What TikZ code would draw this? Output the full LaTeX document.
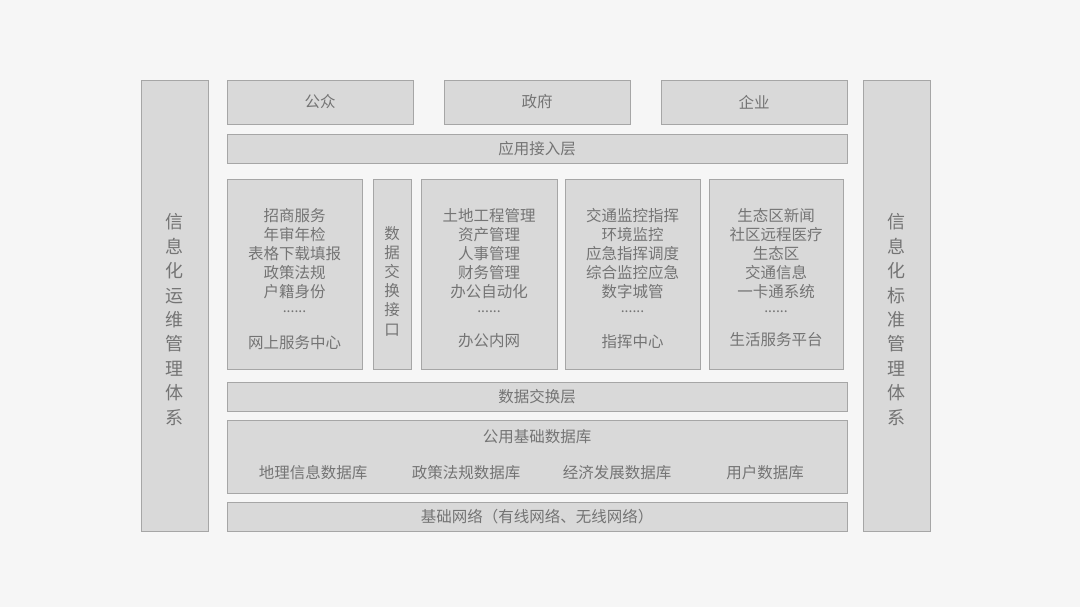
\documentclass[tikz,border=0pt]{standalone}
\usepackage{fontspec}
\setmainfont{Noto Sans CJK SC}
\definecolor{bgc}{HTML}{F6F6F6}
\definecolor{boxfill}{HTML}{D9D9D9}
\definecolor{boxline}{HTML}{A6A6A6}
\definecolor{txt}{HTML}{747474}
\tikzset{
  box/.style={draw=boxline, fill=boxfill, line width=0.9pt, inner sep=0pt},
  lbl/.style={text=txt, font=\fontsize{15.5}{19}\selectfont, inner sep=0pt, align=center},
  side/.style={text=txt, font=\fontsize{18}{24.4}\selectfont, inner sep=0pt, align=center},
  vlbl/.style={text=txt, font=\fontsize{15.5}{19.2}\selectfont, inner sep=0pt, align=center},
  dots/.style={text=txt, font=\fontsize{14}{14}\selectfont, inner sep=0pt}
}
\begin{document}
\begin{tikzpicture}[x=1pt,y=-1pt]
\fill[bgc] (0,0) rectangle (1080,607);
\useasboundingbox (0,0) rectangle (1080,607);
% side columns
\node[box, minimum width=67pt, minimum height=451pt] (ops) at (174.5,305.5) {};
\node[side] (opst) at (174.5,319.5) {信\\息\\化\\运\\维\\管\\理\\体\\系};
\node[box, minimum width=67pt, minimum height=451pt] (std) at (896.5,305.5) {};
\node[side] (stdt) at (896.5,319.5) {信\\息\\化\\标\\准\\管\\理\\体\\系};
% top row
\node[box, minimum width=186pt, minimum height=44pt] (pub) at (320,102) {};
\node[lbl] at (pub.center) {公众};
\node[box, minimum width=186pt, minimum height=44pt] (gov) at (537,102) {};
\node[lbl] at (gov.center) {政府};
\node[box, minimum width=186pt, minimum height=44pt] (ent) at (754,102) {};
\node[lbl] at (ent.center) {企业};
% access layer
\node[box, minimum width=620pt, minimum height=29pt] (acc) at (537,148.5) {};
\node[lbl] at (acc.center) {应用接入层};
% application boxes
\node[box, minimum width=135pt, minimum height=190pt] (bA) at (294.5,274) {};
\node[lbl] (bAt) at (294.5,254) {招商服务\\年审年检\\表格下载填报\\政策法规\\户籍身份};
\node[dots] (bAd) at (294.5,312) {......};
\node[lbl] (bAl) at (294.5,343) {网上服务中心};
\node[box, minimum width=38pt, minimum height=190pt] (bB) at (392,274) {};
\node[vlbl] (bBt) at (392,281) {数\\据\\交\\换\\接\\口};
\node[box, minimum width=136pt, minimum height=190pt] (bC) at (489,274) {};
\node[lbl] (bCt) at (489,254) {土地工程管理\\资产管理\\人事管理\\财务管理\\办公自动化};
\node[dots] (bCd) at (489,312) {......};
\node[lbl] (bCl) at (489,341) {办公内网};
\node[box, minimum width=135pt, minimum height=190pt] (bD) at (632.5,274) {};
\node[lbl] (bDt) at (632.5,254) {交通监控指挥\\环境监控\\应急指挥调度\\综合监控应急\\数字城管};
\node[dots] (bDd) at (632.5,312) {......};
\node[lbl] (bDl) at (632.5,342) {指挥中心};
\node[box, minimum width=134pt, minimum height=190pt] (bE) at (776,274) {};
\node[lbl] (bEt) at (776,254) {生态区新闻\\社区远程医疗\\生态区\\交通信息\\一卡通系统};
\node[dots] (bEd) at (776,312) {......};
\node[lbl] (bEl) at (776,340) {生活服务平台};
% exchange layer
\node[box, minimum width=620pt, minimum height=29pt] (exc) at (537,396.5) {};
\node[lbl] at (exc.center) {数据交换层};
% database
\node[box, minimum width=620pt, minimum height=73pt] (db) at (537,456.5) {};
\node[lbl] (dbt) at (537,437) {公用基础数据库};
\node[lbl] (db1) at (313,473) {地理信息数据库};
\node[lbl] (db2) at (466,473) {政策法规数据库};
\node[lbl] (db3) at (617,473) {经济发展数据库};
\node[lbl] (db4) at (765,473) {用户数据库};
% network
\node[box, minimum width=620pt, minimum height=29pt] (net) at (537,516.5) {};
\node[lbl] at (net.center) {基础网络（有线网络、无线网络）};
\end{tikzpicture}
\end{document}
